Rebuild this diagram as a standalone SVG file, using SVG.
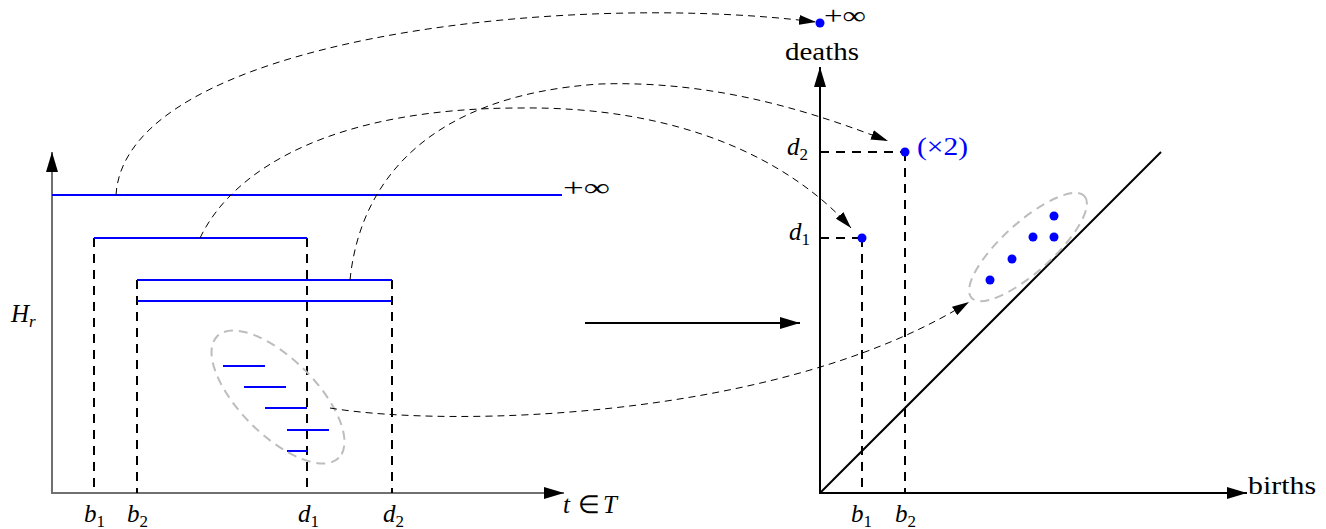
<svg xmlns="http://www.w3.org/2000/svg" width="1326" height="529" viewBox="0 0 1326 529">
<style>
.txt{font-family:"Liberation Serif","Times New Roman",serif;font-size:25px;fill:#000}
.mi{font-style:italic}
.sub{font-size:17px;font-style:normal}
.subi{font-size:17px;font-style:italic}
.blue{stroke:#0000ff;stroke-width:2;fill:none}
.vd{stroke:#000;stroke-width:2;stroke-dasharray:9 7;fill:none}
.arc{stroke:#000;stroke-width:1;stroke-dasharray:7 5;fill:none}
.ell{stroke:#bdbdbd;stroke-width:2;stroke-dasharray:9 6;fill:none}
.gax{stroke:#707070;stroke-width:2;fill:none}
.kax{stroke:#000;stroke-width:2;fill:none}
.pt{fill:#0000ff}
</style>
<defs>
<marker id="ax" markerUnits="userSpaceOnUse" viewBox="0 0 20 12" markerWidth="20" markerHeight="12" refX="20" refY="6" orient="auto">
<path d="M0,0 L20,6 L0,12 z" fill="#000"/>
</marker>
<marker id="dar" markerUnits="userSpaceOnUse" viewBox="0 0 17 10" markerWidth="17" markerHeight="10" refX="17" refY="5" orient="auto">
<path d="M0,0 L17,5 L0,10 z" fill="#000"/>
</marker>
</defs>

<g id="left-axes">
<line class="gax" x1="52" y1="493" x2="52" y2="152" marker-end="url(#ax)"/>
<line class="gax" x1="51" y1="493" x2="564" y2="493" marker-end="url(#ax)"/>
<text class="txt mi" x="11" y="322">H<tspan class="subi" dy="5">r</tspan></text>
<text class="txt" x="563" y="513"><tspan class="mi" x="563">t</tspan><tspan x="578">∈</tspan><tspan class="mi" x="603">T</tspan></text>
</g>

<g id="bars">
<line class="vd" x1="94" y1="238" x2="94" y2="493"/>
<line class="vd" x1="137" y1="280" x2="137" y2="493"/>
<line class="vd" x1="307" y1="238" x2="307" y2="493"/>
<line class="vd" x1="392" y1="280" x2="392" y2="493"/>
<line class="blue" x1="52" y1="195" x2="562" y2="195"/>
<line class="blue" x1="94" y1="238" x2="307" y2="238"/>
<line class="blue" x1="137" y1="280" x2="392" y2="280"/>
<line class="blue" x1="137" y1="301" x2="392" y2="301"/>
<text class="txt" x="563" y="196" textLength="47" lengthAdjust="spacingAndGlyphs">+∞</text>
<text class="txt mi" x="84" y="522">b<tspan class="sub" dy="5">1</tspan></text>
<text class="txt mi" x="127" y="522">b<tspan class="sub" dy="5">2</tspan></text>
<text class="txt mi" x="298" y="522">d<tspan class="sub" dy="5">1</tspan></text>
<text class="txt mi" x="383" y="522">d<tspan class="sub" dy="5">2</tspan></text>
</g>

<g id="small-bars">
<line class="blue" x1="223" y1="366" x2="265" y2="366"/>
<line class="blue" x1="244" y1="387" x2="286" y2="387"/>
<line class="blue" x1="265" y1="408" x2="307" y2="408"/>
<line class="blue" x1="287" y1="430" x2="329" y2="430"/>
<line class="blue" x1="287" y1="451" x2="307" y2="451"/>
<ellipse class="ell" cx="278" cy="397" rx="86" ry="38" transform="rotate(45 278 397)"/>
</g>

<g id="diagram-axes">
<line class="kax" x1="820" y1="494" x2="820" y2="67" marker-end="url(#ax)"/>
<line class="kax" x1="819" y1="493" x2="1247" y2="493" marker-end="url(#ax)"/>
<line class="kax" x1="820" y1="493" x2="1161" y2="152"/>
<text class="txt" x="785" y="60" textLength="74" lengthAdjust="spacingAndGlyphs">deaths</text>
<text class="txt" x="1248" y="494" textLength="68" lengthAdjust="spacingAndGlyphs">births</text>
</g>

<g id="point-inf">
<circle class="pt" cx="820" cy="23" r="4.5"/>
<text class="txt" x="824" y="24" textLength="42" lengthAdjust="spacingAndGlyphs">+∞</text>
</g>

<g id="point-d2">
<line class="vd" x1="820" y1="152" x2="905" y2="152"/>
<line class="vd" x1="905" y1="152" x2="905" y2="493"/>
<circle class="pt" cx="905" cy="152" r="4.5"/>
<text class="txt" x="917" y="155" style="fill:#0000ff" textLength="51" lengthAdjust="spacingAndGlyphs">(×2)</text>
<text class="txt mi" x="787" y="155">d<tspan class="sub" dy="5">2</tspan></text>
<text class="txt mi" x="895" y="522">b<tspan class="sub" dy="5">2</tspan></text>
</g>

<g id="point-d1">
<line class="vd" x1="820" y1="238" x2="862" y2="238"/>
<line class="vd" x1="862" y1="238" x2="862" y2="493"/>
<circle class="pt" cx="862" cy="238" r="4.5"/>
<text class="txt mi" x="789" y="240">d<tspan class="sub" dy="5">1</tspan></text>
<text class="txt mi" x="851" y="522">b<tspan class="sub" dy="5">1</tspan></text>
</g>

<g id="cluster">
<ellipse class="ell" cx="1028" cy="247" rx="76" ry="25" transform="rotate(-42 1028 247)"/>
<circle class="pt" cx="990" cy="280" r="4.5"/>
<circle class="pt" cx="1012" cy="259" r="4.5"/>
<circle class="pt" cx="1033" cy="237" r="4.5"/>
<circle class="pt" cx="1054" cy="237" r="4.5"/>
<circle class="pt" cx="1054" cy="216" r="4.5"/>
</g>

<g id="connectors">
<path class="arc" d="M116,195 C125,40 560,-10 816,22" marker-end="url(#dar)"/>
<path class="arc" d="M200,238 C235,165 340,108 520,108 C680,106 790,160 851,228" marker-end="url(#dar)"/>
<path class="arc" d="M350,280 C360,180 430,95 600,84 C720,80 820,115 888,141" marker-end="url(#dar)"/>
<path class="arc" d="M330,408 C450,428 780,420 969,302" marker-end="url(#dar)"/>
<line class="kax" x1="585" y1="323" x2="800" y2="323" marker-end="url(#ax)"/>
</g>
</svg>
